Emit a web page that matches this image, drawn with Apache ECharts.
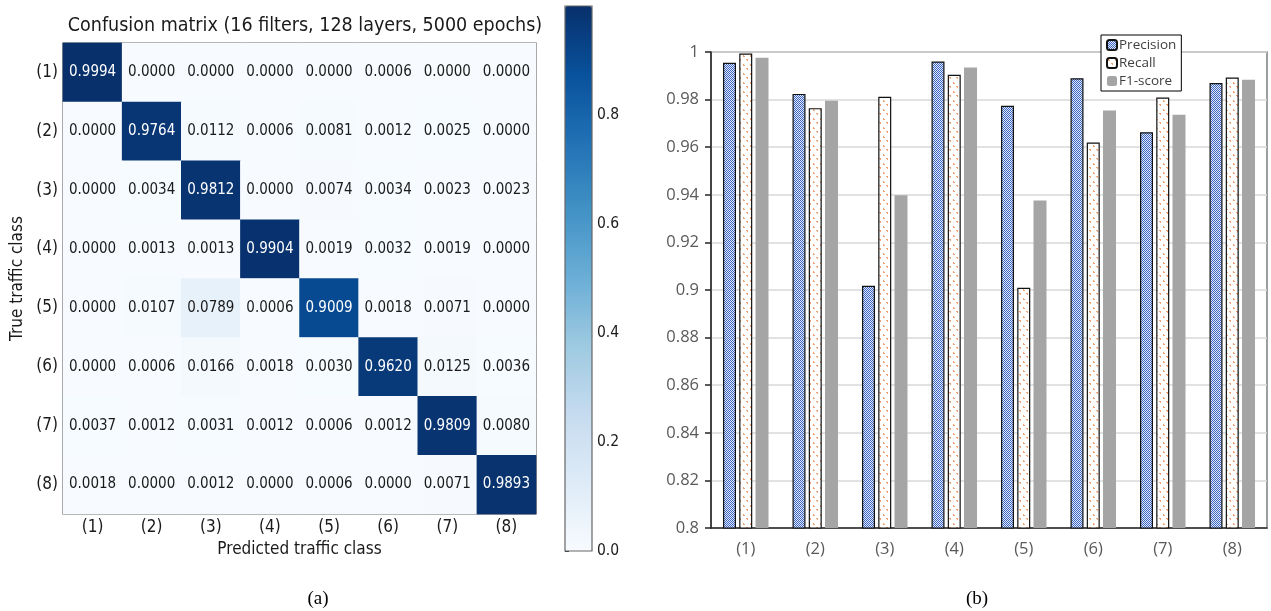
<!DOCTYPE html>
<html>
<head>
<meta charset="utf-8">
<script src="https://cdn.jsdelivr.net/npm/echarts@6/dist/echarts.min.js"></script>
<style>
  html, body { margin: 0; padding: 0; background: #fff; }
  #chart { width: 1271px; height: 611px; }
</style>
</head>
<body>
<div id="chart"></div>
<script>
// ---------- data ----------
const classes = ['(1)', '(2)', '(3)', '(4)', '(5)', '(6)', '(7)', '(8)'];
const cmRow1 = [0.9994, 0.0000, 0.0000, 0.0000, 0.0000, 0.0006, 0.0000, 0.0000];
const cmRow2 = [0.0000, 0.9764, 0.0112, 0.0006, 0.0081, 0.0012, 0.0025, 0.0000];
const cmRow3 = [0.0000, 0.0034, 0.9812, 0.0000, 0.0074, 0.0034, 0.0023, 0.0023];
const cmRow4 = [0.0000, 0.0013, 0.0013, 0.9904, 0.0019, 0.0032, 0.0019, 0.0000];
const cmRow5 = [0.0000, 0.0107, 0.0789, 0.0006, 0.9009, 0.0018, 0.0071, 0.0000];
const cmRow6 = [0.0000, 0.0006, 0.0166, 0.0018, 0.0030, 0.9620, 0.0125, 0.0036];
const cmRow7 = [0.0037, 0.0012, 0.0031, 0.0012, 0.0006, 0.0012, 0.9809, 0.0080];
const cmRow8 = [0.0018, 0.0000, 0.0012, 0.0000, 0.0006, 0.0000, 0.0071, 0.9893];
const confusion = [cmRow1, cmRow2, cmRow3, cmRow4, cmRow5, cmRow6, cmRow7, cmRow8];
const colorbarTicks = [0.0, 0.2, 0.4, 0.6, 0.8];

const precision = [0.9955, 0.9824, 0.9018, 0.9960, 0.9774, 0.9890, 0.9663, 0.9870];
const recall    = [0.9994, 0.9764, 0.9812, 0.9904, 0.9009, 0.9620, 0.9809, 0.9893];
const f1score   = [0.9976, 0.9795, 0.9398, 0.9935, 0.9376, 0.9754, 0.9736, 0.9883];
const barTicks  = [0.8, 0.82, 0.84, 0.86, 0.88, 0.9, 0.92, 0.94, 0.96, 0.98, 1];

// ---------- helpers ----------
let cmMax = 0;
confusion.forEach(r => r.forEach(v => { if (v > cmMax) cmMax = v; }));
const heatData = [];
confusion.forEach((row, i) => row.forEach((v, j) => {
  heatData.push({
    value: [j, i, v],
    label: { color: v > cmMax / 2 ? '#ffffff' : '#1a1a1a' }
  });
}));

function makePattern(w, h, bg, pixels, fg) {
  const c = document.createElement('canvas');
  c.width = w; c.height = h;
  const ctx = c.getContext('2d');
  ctx.fillStyle = bg; ctx.fillRect(0, 0, w, h);
  ctx.fillStyle = fg;
  pixels.forEach(p => ctx.fillRect(p[0], p[1], 1, 1));
  return { image: c, repeat: 'repeat' };
}
const checker = makePattern(2, 2, '#e6ecf9', [[0, 0], [1, 1]], '#3863c2');
const dots = makePattern(7, 9, '#ffffff', [[1, 1], [2, 2], [1, 2], [5, 6], [4, 5], [5, 5]], '#f2a272');

const blues = ['#f7fbff', '#deebf7', '#c6dbef', '#9ecae1', '#6baed6', '#4292c6', '#2171b5', '#08519c', '#08306b'];
const dv = 'DejaVu Sans Condensed, DejaVu Sans, sans-serif';
const office = 'Open Sans, Noto Sans, sans-serif';

const chart = echarts.init(document.getElementById('chart'), null, { renderer: 'canvas' });
chart.setOption({
  animation: false,
  title: [
    { text: 'Confusion matrix (16 filters, 128 layers, 5000 epochs)', left: 300, top: 11, textAlign: 'center',
      textStyle: { fontFamily: dv, fontSize: 19.5, fontWeight: 'normal', color: '#1a1a1a' } },
    { text: '(a)', left: 313, top: 585, textAlign: 'center',
      textStyle: { fontFamily: 'Liberation Serif, serif', fontSize: 19, fontWeight: 'normal', color: '#000' } },
    { text: '(b)', left: 972, top: 585, textAlign: 'center',
      textStyle: { fontFamily: 'Liberation Serif, serif', fontSize: 19, fontWeight: 'normal', color: '#000' } }
  ],
  grid: [
    { left: 63, top: 43, width: 473, height: 471, show: true, borderColor: '#444', borderWidth: 1.2, backgroundColor: 'transparent' },
    { left: 711, top: 52, width: 556, height: 476, show: true, borderColor: '#7f7f7f', borderWidth: 1.5, backgroundColor: 'transparent' },
    { left: 565, top: 6, width: 27, height: 545, show: false }
  ],
  xAxis: [
    { type: 'category', gridIndex: 0, data: classes,
      name: 'Predicted traffic class', nameLocation: 'middle', nameGap: 27,
      nameTextStyle: { fontFamily: dv, fontSize: 17, color: '#1a1a1a' },
      axisLine: { show: false }, axisTick: { alignWithLabel: true, length: 4, lineStyle: { color: '#333' } },
      axisLabel: { fontFamily: dv, fontSize: 17, color: '#1a1a1a', margin: 5 },
      splitLine: { show: false } },
    { type: 'category', gridIndex: 1, data: classes,
      axisLine: { lineStyle: { color: '#262626', width: 1.5 } },
      axisTick: { length: 6, lineStyle: { color: '#262626', width: 1.5 } },
      axisLabel: { fontFamily: office, fontSize: 16.5, color: '#595959', margin: 13 } },
    { type: 'value', gridIndex: 2, show: false, min: 0, max: 1 }
  ],
  yAxis: [
    { type: 'category', gridIndex: 0, data: classes, inverse: true,
      name: 'True traffic class', nameLocation: 'middle', nameGap: 37, nameRotate: 90,
      nameTextStyle: { fontFamily: dv, fontSize: 17, color: '#1a1a1a' },
      axisLine: { show: false }, axisTick: { alignWithLabel: true, length: 4, lineStyle: { color: '#333' } },
      axisLabel: { fontFamily: dv, fontSize: 17, color: '#1a1a1a', margin: 5 },
      splitLine: { show: false } },
    { type: 'value', gridIndex: 1, min: 0.8, max: 1, interval: 0.02,
      axisLine: { show: true, lineStyle: { color: '#262626', width: 1.5 } },
      axisTick: { show: true, length: 6, lineStyle: { color: '#262626', width: 1.5 } },
      axisLabel: { fontFamily: office, fontSize: 16.5, color: '#595959', margin: 12,
                   customValues: barTicks, formatter: v => String(+v.toFixed(2)) },
      splitLine: { lineStyle: { color: '#d9d9d9', width: 1.5 } } },
    { type: 'value', gridIndex: 2, position: 'right', min: 0, max: cmMax,
      axisLine: { show: false },
      axisTick: { show: true, length: 4, customValues: colorbarTicks, lineStyle: { color: '#333' } },
      axisLabel: { fontFamily: dv, fontSize: 15.5, color: '#1a1a1a', margin: 5,
                   customValues: colorbarTicks, formatter: v => v.toFixed(1) },
      splitLine: { show: false } }
  ],
  visualMap: {
    type: 'continuous', seriesIndex: 0, min: 0, max: cmMax, calculable: false,
    left: 565, top: 6, itemWidth: 27, itemHeight: 545, padding: 0, text: null,
    showLabel: false, hoverLink: false,
    inRange: { color: blues }
  },
  legend: {
    orient: 'vertical', left: 1101, top: 35, padding: [3, 5, 3, 5],
    backgroundColor: '#fff', borderColor: '#000', borderWidth: 1, borderRadius: 0,
    itemWidth: 10, itemHeight: 10, itemGap: 4,
    textStyle: { fontFamily: office, fontSize: 13.5, color: '#404040', padding: [0, 0, 0, -3] },
    data: ['Precision', 'Recall', 'F1-score']
  },
  graphic: [
    { type: 'rect', z: 100, silent: true,
      shape: { x: 565, y: 6, width: 27, height: 545 },
      style: { fill: 'none', stroke: '#666', lineWidth: 1.2 } }
  ],
  series: [
    { type: 'heatmap', xAxisIndex: 0, yAxisIndex: 0, data: heatData,
      label: { show: true, fontFamily: dv, fontSize: 15, formatter: p => p.value[2].toFixed(4) },
      itemStyle: { borderWidth: 0 } },
    { name: 'Precision', type: 'bar', xAxisIndex: 1, yAxisIndex: 1, data: precision,
      barWidth: 13, barGap: '25%',
      itemStyle: { color: checker, borderColor: '#111', borderWidth: 1.2 } },
    { name: 'Recall', type: 'bar', xAxisIndex: 1, yAxisIndex: 1, data: recall,
      barWidth: 13, barGap: '25%',
      itemStyle: { color: dots, borderColor: '#111', borderWidth: 1.2 } },
    { name: 'F1-score', type: 'bar', xAxisIndex: 1, yAxisIndex: 1, data: f1score,
      barWidth: 13, barGap: '25%',
      itemStyle: { color: '#a5a5a5' } }
  ]
});
</script>
</body>
</html>
